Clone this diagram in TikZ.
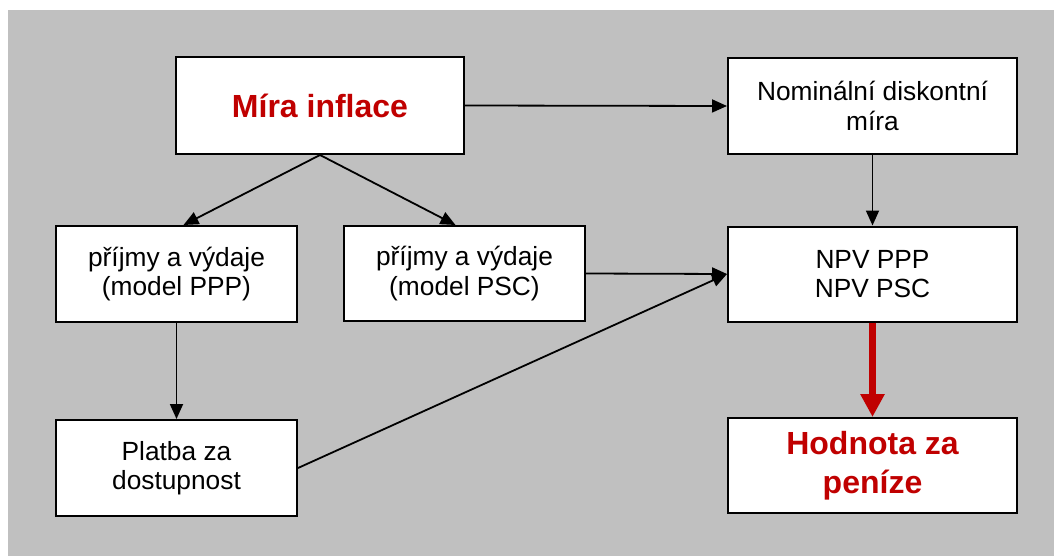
\documentclass[tikz,border=0pt]{standalone}
\usepackage{fontspec}
\setmainfont{Liberation Sans}
\usetikzlibrary{arrows.meta}
\definecolor{panelgray}{RGB}{192,192,192}
\definecolor{accentred}{RGB}{192,0,0}
\begin{document}
\begin{tikzpicture}[x=1pt,y=-1pt,
  box/.style={draw=black,line width=2pt,fill=white,align=center,inner sep=0pt,
    font=\fontsize{26.3}{29.5}\selectfont},
  keybox/.style={box,text=accentred,font=\fontsize{32}{39}\bfseries\selectfont},
  link/.style={line width=1.8pt,-{Triangle[length=15pt,width=13pt]}},
  biglink/.style={draw=accentred,line width=7pt,
    -{Triangle[length=23pt,width=23pt]}}]
  \useasboundingbox (0,0) rectangle (1054,556);
  \fill[panelgray] (8,10) rectangle (1054,556);

  % top row
  \node[keybox,minimum width=288pt,minimum height=97pt] (mira) at (320,105.5) {\raisebox{-4pt}{Míra inflace}};
  \node[box,minimum width=289pt,minimum height=96pt] (nom) at (872.5,106) {Nominální diskontní\\míra};

  % middle row
  \node[box,minimum width=241pt,minimum height=96pt] (ppp) at (176.5,274) {příjmy a výdaje\\(model PPP)};
  \node[box,minimum width=241pt,minimum height=95pt] (psc) at (464.5,273.5) {příjmy a výdaje\\(model PSC)};
  \node[box,minimum width=289pt,minimum height=95pt] (npv) at (872.5,274) {NPV PPP\\NPV PSC};

  % bottom row
  \node[box,minimum width=241pt,minimum height=96pt] (pay) at (176.5,468) {Platba za\\dostupnost};
  \node[keybox,minimum width=289pt,minimum height=95pt] (vfm) at (872.5,465.5) {Hodnota za\\peníze};

  % connectors
  \draw[link] (mira.east) -- (nom.west);
  \draw[link] (mira.south) -- ([xshift=7pt]ppp.north);
  \draw[link] (mira.south) -- ([xshift=-9pt]psc.north);
  \draw[link] (nom.south) -- (npv.north);
  \draw[link] (psc.east) -- (npv.west);
  \draw[link] (pay.east) -- (npv.west);
  \draw[link] (ppp.south) -- (pay.north);
  \draw[biglink] (npv.south) -- (vfm.north);
\end{tikzpicture}
\end{document}
